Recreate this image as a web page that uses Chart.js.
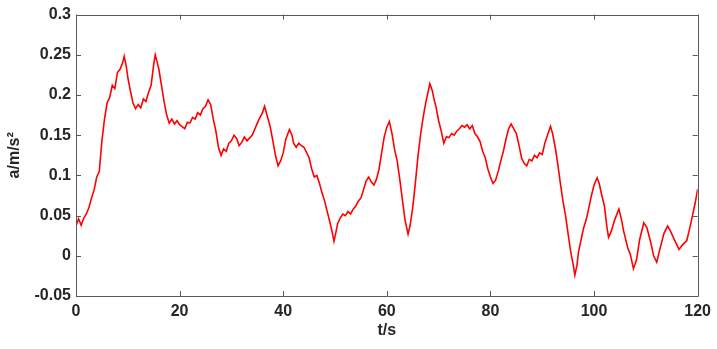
<!DOCTYPE html>
<html>
<head>
<meta charset="utf-8">
<script src="https://cdn.jsdelivr.net/npm/chart.js@4/dist/chart.umd.min.js"></script>
<style>
  html, body { margin: 0; padding: 0; background: #ffffff; }
  #wrap { width: 717px; height: 349px; position: relative; }
</style>
</head>
<body>
<div id="wrap"><canvas id="c" width="717" height="349"></canvas></div>
<script>
// ---- data ----
const times = [
  0, 0.5, 1, 1.5, 2, 2.5, 3, 3.5, 4, 4.5, 5, 5.5, 6, 6.5, 7, 7.5, 8, 8.5, 9, 9.3, 9.7,
  10, 10.5, 11, 11.5, 12, 12.5, 13, 13.5, 14, 14.5, 15, 15.3, 15.7, 16, 16.5, 17, 17.5, 18, 18.5, 19, 19.5,
  20, 21, 21.5, 22, 22.5, 23, 23.5, 24, 24.5, 25, 25.5, 26, 26.5, 27, 27.5, 28, 28.5, 29, 29.5,
  30, 30.5, 31, 31.5, 32, 32.5, 33, 34, 35, 35.5, 36, 36.4, 37, 37.5, 38, 38.5, 39, 39.5,
  40, 40.5, 41.2, 41.7, 42, 42.5, 43, 43.5, 44, 45, 45.5, 46, 46.5, 47, 47.5, 48, 48.5, 49, 49.5, 49.8,
  50.2, 50.5, 51, 51.5, 52, 52.5, 53, 53.5, 54, 54.5, 55, 55.5, 56, 56.5, 57, 57.5, 58, 58.5, 59, 59.5,
  60, 60.5, 61, 61.5, 62, 62.5, 63, 63.5, 64.1, 64.5, 65, 65.5, 66, 66.5, 67, 67.5, 68.3, 68.8, 69, 69.5,
  70, 70.5, 71, 71.5, 72, 72.5, 73, 73.5, 74, 74.5, 75, 75.5, 76, 76.5, 77, 77.5, 78, 78.5, 79, 79.5,
  80, 80.5, 81, 81.5, 82, 82.5, 83, 83.5, 84, 84.5, 85, 85.5, 86, 86.5, 87, 87.5, 88, 88.5, 89, 89.5,
  90, 90.5, 91, 91.6, 92, 92.5, 93, 93.5, 94, 94.5, 95, 95.5, 96, 96.3, 96.7, 97, 97.5, 98, 98.5, 99, 99.5,
  100, 100.6, 101, 101.5, 102, 102.5, 102.8, 103.3, 104, 104.8, 105.3, 105.7, 106.5, 107, 107.6, 108.2, 108.8, 109.6,
  110.2, 111, 111.5, 112.1, 112.7, 113.5, 114.2, 114.8, 115.5, 116.4, 117, 117.9, 118.5, 119, 119.5, 120
];
const accel = [
  0.037, 0.046, 0.038, 0.047, 0.052, 0.060, 0.072, 0.082, 0.098, 0.105, 0.143, 0.170, 0.190, 0.197, 0.212, 0.208, 0.228, 0.232, 0.240, 0.248, 0.236,
  0.222, 0.205, 0.190, 0.183, 0.188, 0.184, 0.195, 0.192, 0.203, 0.212, 0.238, 0.250, 0.240, 0.232, 0.212, 0.192, 0.175, 0.165, 0.170, 0.164, 0.168,
  0.163, 0.158, 0.166, 0.165, 0.172, 0.170, 0.178, 0.175, 0.183, 0.186, 0.194, 0.188, 0.170, 0.155, 0.135, 0.125, 0.133, 0.130, 0.140,
  0.143, 0.150, 0.146, 0.137, 0.141, 0.148, 0.143, 0.150, 0.165, 0.172, 0.178, 0.186, 0.172, 0.160, 0.143, 0.125, 0.112, 0.118,
  0.128, 0.145, 0.157, 0.150, 0.140, 0.135, 0.140, 0.137, 0.135, 0.122, 0.108, 0.098, 0.100, 0.090, 0.078, 0.068, 0.055, 0.042, 0.028, 0.018,
  0.030, 0.040, 0.047, 0.052, 0.050, 0.055, 0.052, 0.058, 0.062, 0.068, 0.072, 0.082, 0.093, 0.098, 0.092, 0.088, 0.095, 0.108, 0.128, 0.148,
  0.160, 0.167, 0.152, 0.132, 0.118, 0.095, 0.070, 0.045, 0.027, 0.038, 0.060, 0.090, 0.123, 0.150, 0.172, 0.190, 0.214, 0.205, 0.198, 0.185,
  0.168, 0.155, 0.140, 0.148, 0.147, 0.152, 0.150, 0.155, 0.158, 0.162, 0.160, 0.163, 0.158, 0.162, 0.152, 0.148, 0.142, 0.130, 0.122, 0.108,
  0.098, 0.090, 0.094, 0.105, 0.118, 0.130, 0.145, 0.158, 0.164, 0.158, 0.152, 0.138, 0.122, 0.115, 0.112, 0.120, 0.118, 0.125, 0.122, 0.128,
  0.126, 0.140, 0.150, 0.161, 0.152, 0.135, 0.114, 0.090, 0.068, 0.050, 0.027, 0.005, -0.012, -0.024, -0.012, 0.005, 0.020, 0.035, 0.045, 0.060, 0.075,
  0.088, 0.097, 0.090, 0.075, 0.062, 0.035, 0.023, 0.030, 0.045, 0.058, 0.045, 0.031, 0.010, 0.002, -0.016, -0.005, 0.020, 0.041,
  0.035, 0.015, 0.000, -0.008, 0.008, 0.028, 0.037, 0.030, 0.020, 0.008, 0.013, 0.019, 0.035, 0.050, 0.065, 0.083
];
const xTickValues = [0, 20, 40, 60, 80, 100, 120];
const xTickLabels = ['0', '20', '40', '60', '80', '100', '120'];
const yTickValues = [-0.05, 0, 0.05, 0.1, 0.15, 0.2, 0.25, 0.3];
const yTickLabels = ['-0.05', '0', '0.05', '0.1', '0.15', '0.2', '0.25', '0.3'];
const xTitle = 't/s';
const yTitle = 'a/m/s\u00B2';

// ---- chart ----
const points = times.map((t, i) => ({ x: t, y: accel[i] }));
const textColor = '#262626';
const boxColor = '#5a5a5a';
const tickFont = { family: '"Liberation Sans", Arial, sans-serif', size: 16, weight: 'bold' };

const boxPlugin = {
  id: 'matlabBox',
  afterDatasetsDraw(chart) {
    const { ctx, chartArea: a, scales } = chart;
    ctx.save();
    ctx.strokeStyle = boxColor;
    ctx.lineWidth = 1;
    ctx.beginPath();
    ctx.rect(Math.round(a.left) + 0.5, Math.round(a.top) + 0.5,
             Math.round(a.right - a.left), Math.round(a.bottom - a.top));
    const len = 5;
    scales.x.ticks.forEach(tk => {
      const px = Math.round(scales.x.getPixelForValue(tk.value)) + 0.5;
      ctx.moveTo(px, a.bottom); ctx.lineTo(px, a.bottom - len);
      ctx.moveTo(px, a.top); ctx.lineTo(px, a.top + len);
    });
    scales.y.ticks.forEach(tk => {
      const py = Math.round(scales.y.getPixelForValue(tk.value)) + 0.5;
      ctx.moveTo(a.left, py); ctx.lineTo(a.left + len, py);
      ctx.moveTo(a.right, py); ctx.lineTo(a.right - len, py);
    });
    ctx.stroke();
    ctx.restore();
  }
};

new Chart(document.getElementById('c'), {
  type: 'line',
  data: {
    datasets: [{
      data: points,
      borderColor: '#ff0000',
      borderWidth: 1.6,
      pointRadius: 0,
      tension: 0,
      fill: false
    }]
  },
  options: {
    responsive: false,
    animation: false,
    layout: { padding: { top: 14, right: 18, left: 0, bottom: 0 } },
    plugins: { legend: { display: false }, tooltip: { enabled: false } },
    scales: {
      x: {
        type: 'linear',
        min: 0, max: 120,
        afterBuildTicks: s => { s.ticks = xTickValues.map(v => ({ value: v })); },
        afterFit: s => { s.height = 53; },
        grid: { display: false, drawTicks: false },
        border: { display: false },
        ticks: {
          color: textColor, font: tickFont, padding: 6, maxRotation: 0, autoSkip: false,
          callback: (v, i) => xTickLabels[i]
        },
        title: { display: true, text: xTitle, color: textColor, font: tickFont, padding: { top: 0, bottom: 9 } }
      },
      y: {
        type: 'linear',
        min: -0.05, max: 0.3,
        afterBuildTicks: s => { s.ticks = yTickValues.map(v => ({ value: v })); },
        afterFit: s => { s.width = 76; },
        grid: { display: false, drawTicks: false },
        border: { display: false },
        ticks: {
          color: textColor, font: tickFont, padding: 5, autoSkip: false,
          callback: (v, i) => yTickLabels[i]
        },
        title: { display: true, text: yTitle, color: textColor, font: tickFont, padding: { top: 5, bottom: 0 } }
      }
    }
  },
  plugins: [boxPlugin]
});
</script>
</body>
</html>
